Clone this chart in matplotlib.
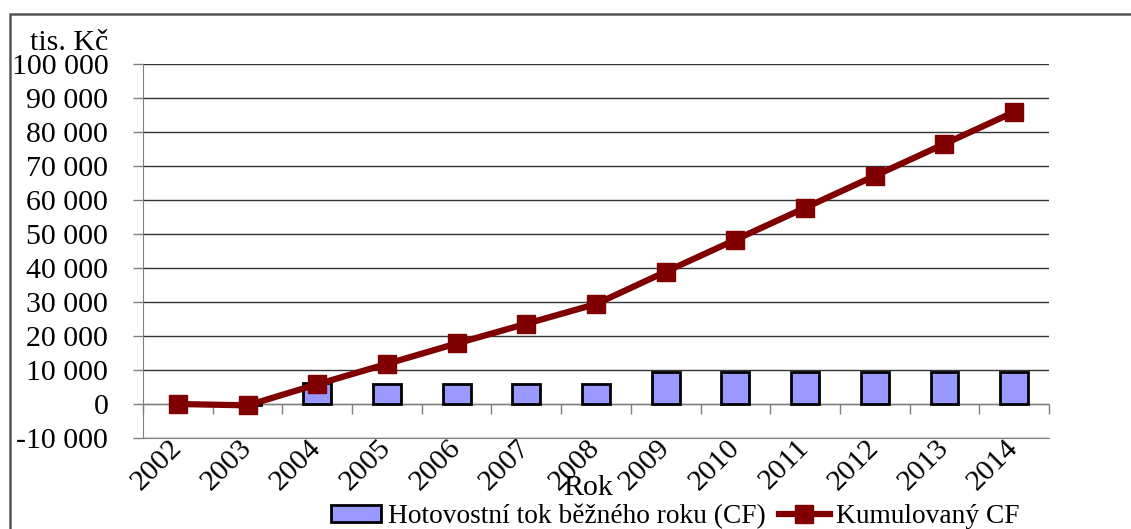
import numpy as np
import matplotlib.pyplot as plt
from matplotlib.patches import Rectangle
from matplotlib.ticker import FuncFormatter, FixedLocator

plt.rcParams["font.family"] = ["Liberation Serif", "DejaVu Serif"]

years = ["2002", "2003", "2004", "2005", "2006", "2007", "2008",
         "2009", "2010", "2011", "2012", "2013", "2014"]
# tis. Kč
cash_flow = [0, -400, 6200, 6000, 6000, 5800, 5800,
             9500, 9400, 9400, 9400, 9400, 9400]
cumulative_cf = [0, -400, 5800, 11800, 17800, 23600, 29400,
                 38900, 48300, 57700, 67100, 76500, 85900]

bar_color = "#9999FF"
line_color = "#800000"
grid_color = "#333333"
axis_color = "#808080"
FS = 21.5
LEG_FS = 19.7

fig = plt.figure(figsize=(11.31, 5.29), dpi=100)
ax = fig.add_axes([143 / 1131, 1 - 438 / 529, 906 / 1131, 374 / 529])

x = np.arange(len(years))
cf = np.array(cash_flow)
has_cf = cf != 0  # empty years get no bar outline
bars = ax.bar(x[has_cf], cf[has_cf], width=0.4, color=bar_color,
              edgecolor="black", linewidth=2, zorder=3,
              label="Hotovostní tok běžného roku (CF)")
line, = ax.plot(x, cumulative_cf, color=line_color, linewidth=4.5, marker="s",
                markersize=13, zorder=4, label="Kumulovaný CF")

ax.set_xlim(-0.5, len(years) - 0.5)
ax.set_ylim(-10000, 100000)
ax.set_yticks(np.arange(-10000, 100001, 10000))
ax.yaxis.set_major_formatter(
    FuncFormatter(lambda v, p: f"{int(v):,}".replace(",", " ")))
ax.tick_params(axis="y", labelsize=FS, length=7, width=1, color=axis_color,
               pad=18)
ax.yaxis.grid(True, color=grid_color, linewidth=1)
ax.set_axisbelow(True)

# zero line with tick marks between categories
for s in ["top", "right"]:
    ax.spines[s].set_visible(False)
ax.spines["left"].set_color(axis_color)
ax.spines["bottom"].set_position(("data", 0))
ax.spines["bottom"].set_color(axis_color)
ax.spines["bottom"].set_zorder(2)
ax.xaxis.set_major_locator(FixedLocator(x))
ax.xaxis.set_minor_locator(FixedLocator(np.arange(-0.5, len(years), 1)))
ax.tick_params(axis="x", which="major", length=0, labelbottom=False)
ax.tick_params(axis="x", which="minor", length=7, width=1, color=axis_color)

# year labels along the bottom of the plot area
sec = ax.secondary_xaxis(0.0)
sec.set_xticks(x)
sec.set_xticklabels(years, rotation=45, ha="right", va="center",
                    rotation_mode="anchor", fontsize=FS)
sec.tick_params(length=0, pad=4)
sec.spines["bottom"].set_color(axis_color)

fig.text(108 / 1131, 1 - 43 / 529, "tis. Kč", ha="right", va="center",
         fontsize=FS)
fig.text(588 / 1131, 1 - 488 / 529, "Rok", ha="center", va="center",
         fontsize=FS)

fig.legend(handles=[bars, line], loc="center", ncol=2,
           bbox_to_anchor=(675 / 1131, 1 - 516.5 / 529), frameon=False,
           fontsize=LEG_FS, handlelength=1.85, handleheight=0.6,
           handletextpad=0.23, columnspacing=0.5, borderpad=0)

# outer chart frame
fig.patches.append(Rectangle((10 / 1131, -0.05), 1.1, 1 - 14 / 529 + 0.05,
                             transform=fig.transFigure, fill=False,
                             edgecolor="#555555", linewidth=1.8))

fig.savefig("out.png", dpi=100)
